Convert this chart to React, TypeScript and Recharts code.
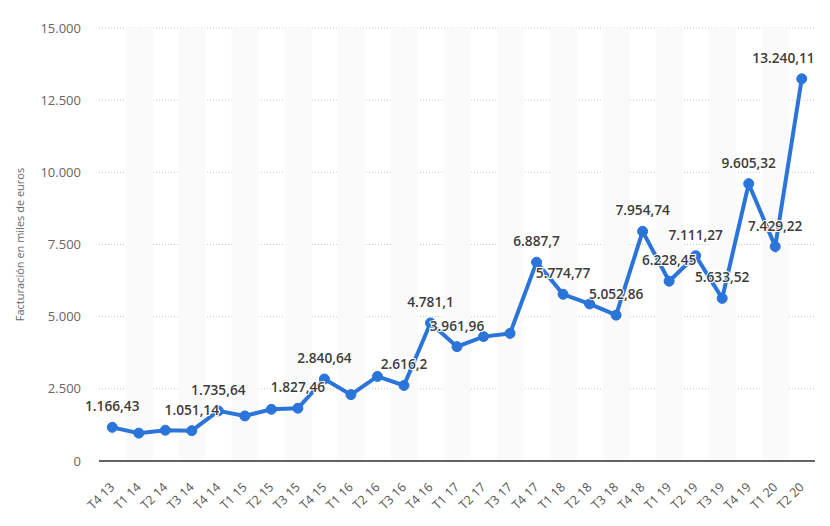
import { ComposedChart, Line, Bar, XAxis, YAxis, CartesianGrid, LabelList } from 'recharts';

const categories = [
  'T4 13', 'T1 14', 'T2 14', 'T3 14', 'T4 14', 'T1 15', 'T2 15', 'T3 15', 'T4 15',
  'T1 16', 'T2 16', 'T3 16', 'T4 16', 'T1 17', 'T2 17', 'T3 17', 'T4 17', 'T1 18',
  'T2 18', 'T3 18', 'T4 18', 'T1 19', 'T2 19', 'T3 19', 'T4 19', 'T1 20', 'T2 20',
];

const values = [
  1166.43, 965, 1065, 1051.14, 1735.64, 1560, 1790, 1827.46, 2840.64,
  2300, 2930, 2616.2, 4781.1, 3961.96, 4310, 4420, 6887.7, 5774.77,
  5440, 5052.86, 7954.74, 6228.45, 7111.27, 5633.52, 9605.32, 7429.22, 13240.11,
];

// points that carry a value label in the original
const labelled = [
  true, false, false, true, true, false, false, true, true,
  false, false, true, true, true, false, false, true, true,
  false, true, true, true, true, true, true, true, true,
];

const yTicks = [0, 2500, 5000, 7500, 10000, 12500, 15000];

const data = categories.map((c, i) => ({
  name: c,
  value: values[i],
  label: labelled[i] ? values[i] : null,
  stripe: i % 2 === 1 ? 15000 : 0,
}));

const fmtTick = (v: number) => v.toLocaleString('de-DE');
const fmtLabel = (v: number) => v.toLocaleString('de-DE', { maximumFractionDigits: 2 });

const PLOT_RIGHT = 815;

const XTick = (props: any) => {
  const { x, y, payload } = props;
  return (
    <g transform={`translate(${x + 3}, ${y + 19})`}>
      <text transform="rotate(-45)" textAnchor="end" fontSize={12.5} fill="#555" fontFamily="Open Sans">
        {payload.value}
      </text>
    </g>
  );
};

const ValueLabel = (props: any) => {
  const { x, y, value } = props;
  if (value == null) return null;
  const text = fmtLabel(value);
  // keep the label inside the plot area, like the original does
  const half = (text.length * 7) / 2;
  const cx = Math.min(x, PLOT_RIGHT - half);
  return (
    <text
      x={cx}
      y={y - 16}
      textAnchor="middle"
      fontSize={13.7}
      fontWeight={600}
      fill="#3c3c3c"
      stroke="#fff"
      strokeWidth={2}
      paintOrder="stroke"
      fontFamily="Open Sans"
    >
      {text}
    </text>
  );
};

export default function App() {
  return (
    <div style={{ position: 'absolute', left: 0, top: 0, background: '#fff' }}>
      <ComposedChart
        width={830}
        height={526}
        data={data}
        margin={{ top: 28, right: 15, left: 0, bottom: 0 }}
        barCategoryGap={0}
      >
        <CartesianGrid vertical={false} stroke="#c4c4c4" strokeDasharray="1 2" />
        <XAxis
          dataKey="name"
          height={65}
          tick={<XTick />}
          tickLine={false}
          axisLine={{ stroke: '#333', strokeWidth: 1.5 }}
          interval={0}
        />
        <YAxis
          width={99}
          domain={[0, 15000]}
          ticks={yTicks}
          tickFormatter={fmtTick}
          axisLine={false}
          tickLine={false}
          tickSize={8}
          tickMargin={10}
          tick={{ fill: '#666', fontSize: 13, fontFamily: 'Open Sans' }}
          label={{
            value: 'Facturación en miles de euros',
            angle: -90,
            position: 'insideLeft',
            offset: 20,
            style: { textAnchor: 'middle', fill: '#666', fontSize: 11, fontFamily: 'Open Sans' },
          }}
        />
        <Bar dataKey="stripe" fill="#fafafa" isAnimationActive={false} />
        <Line
          dataKey="value"
          stroke="#2a74da"
          strokeWidth={4}
          dot={{ r: 5, fill: '#2a74da', stroke: '#2a74da', strokeWidth: 1 }}
          activeDot={false}
          isAnimationActive={false}
        >
          <LabelList dataKey="label" content={<ValueLabel />} />
        </Line>
      </ComposedChart>
    </div>
  );
}
